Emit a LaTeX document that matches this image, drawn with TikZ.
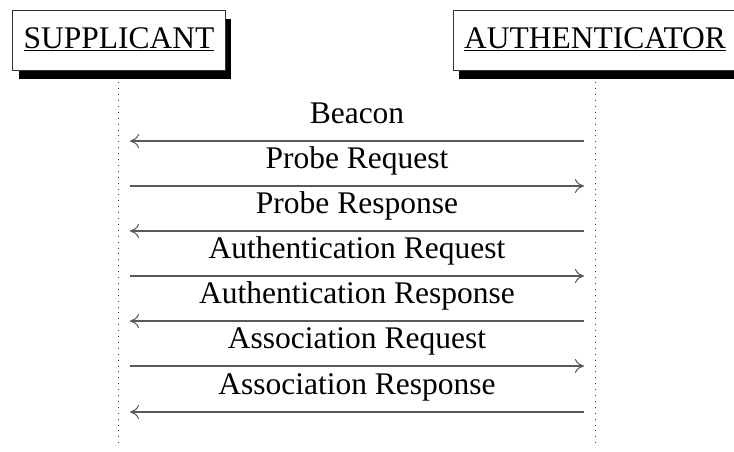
\documentclass[tikz,border=0pt]{standalone}
\usepackage{fontspec}
\setmainfont{Liberation Serif}
\usetikzlibrary{arrows.meta,shadows}
\begin{document}
\begin{tikzpicture}[x=1pt,y=-1pt,
  font=\fontsize{31.5}{36}\selectfont,
  party/.style={draw=black!80, line width=1pt, fill=white,
    inner xsep=11pt, inner ysep=0pt, minimum height=60pt,
    text height=22pt, text depth=7pt,
    drop shadow={shadow xshift=6pt, shadow yshift=-8pt, fill=black, opacity=1}},
  lifeline/.style={line width=1pt, dash pattern=on 0.9pt off 5pt, black!80},
  msg/.style={line width=1.1pt, black!65, -{To[length=9pt,width=14pt,line width=1pt]}},
  lbl/.style={anchor=base, yshift=18pt, text=black, inner sep=0pt}]
  \useasboundingbox (0,0) rectangle (734,452);

  % lifelines (drawn first so the party boxes cover their tops)
  \coordinate (supEnd) at (118,448);
  \coordinate (autEnd) at (595,448);
  \draw[lifeline] (118,41) -- (supEnd);
  \draw[lifeline] (595,41) -- (autEnd);

  % parties
  \node[party] (sup) at (119,41) {\underline{SUPPLICANT}};
  \node[party] (aut) at (595,41) {\underline{AUTHENTICATOR}};

  % message end points
  \foreach \i/\y in {1/141,2/186,3/231,4/276,5/321,6/366,7/412}{
    \coordinate (s\i) at (130,\y);
    \coordinate (a\i) at (584,\y);
  }

  % message exchange
  \draw[msg] (a1) -- node[lbl]{Beacon} (s1);
  \draw[msg] (s2) -- node[lbl]{Probe Request} (a2);
  \draw[msg] (a3) -- node[lbl]{Probe Response} (s3);
  \draw[msg] (s4) -- node[lbl]{Authentication Request} (a4);
  \draw[msg] (a5) -- node[lbl]{Authentication Response} (s5);
  \draw[msg] (s6) -- node[lbl]{Association Request} (a6);
  \draw[msg] (a7) -- node[lbl]{Association Response} (s7);
\end{tikzpicture}
\end{document}
